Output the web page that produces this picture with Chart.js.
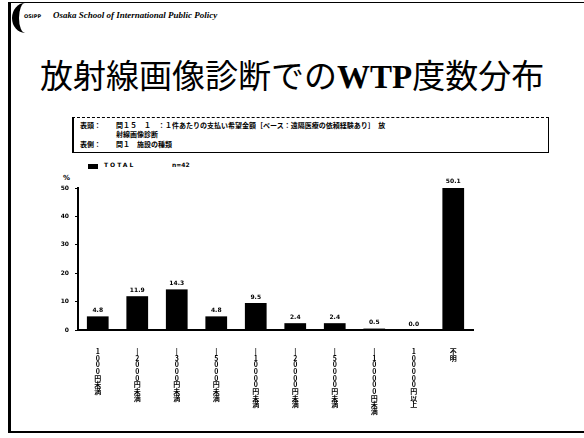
<!DOCTYPE html>
<html>
<head>
<meta charset="utf-8">
<script src="https://cdn.jsdelivr.net/npm/chart.js@4.4.1/dist/chart.umd.min.js"></script>
<style>
    html, body { margin: 0; padding: 0; background: #fff; }
    body { width: 584px; height: 438px; position: relative; overflow: hidden; font-family: "Noto Sans CJK JP", sans-serif; }
    .frame { position: absolute; left: 8px; top: 2px; width: 574px; height: 428px; border-left: 3px solid #000; border-bottom: 2px solid #000; border-top: 1px solid #000; }
    .logo { position: absolute; left: 12px; top: 3px; width: 26px; height: 30px; border-radius: 50%; border-left: 7px solid #000; box-sizing: border-box; }
    .logo-text { position: absolute; left: 24px; top: 13px; font: bold 5px "DejaVu Sans", sans-serif; }
    .school { position: absolute; left: 53px; top: 10px; font: italic bold 9px "Liberation Serif", serif; }
    .title { position: absolute; left: 40px; top: 54px; font-size: 33px; line-height: 40px; white-space: nowrap; color: #000; }
    .title b { font-family: "Liberation Serif", serif; font-weight: bold; }
    .box { position: absolute; left: 72px; top: 117px; width: 474px; height: 34px; border: 1px solid #000; border-left-width: 2px; border-top-style: dashed; font-size: 7px; font-weight: bold; line-height: 10px; }
    .box .row { position: absolute; white-space: nowrap; }
    .legend-sq { position: absolute; left: 88px; top: 164px; width: 10px; height: 5px; background: #000; }
    .legend-tx { position: absolute; left: 104px; top: 161px; font: bold 6px "DejaVu Sans", sans-serif; letter-spacing: 2px; }
    .legend-n { position: absolute; left: 172px; top: 161px; font: bold 6px "DejaVu Sans", sans-serif; color: #000; }
    .unit { position: absolute; left: 63px; top: 174px; font: bold 7px "DejaVu Sans", sans-serif; }
    canvas { position: absolute; left: 0; top: 0; }
</style>
</head>
<body>
<div class="frame"></div>
<div class="logo"></div>
<div class="logo-text">OSIPP</div>
<div class="school">Osaka School of International Public Policy</div>
<div class="title">放射線画像診断での<b>WTP</b>度数分布</div>
<div class="box">
    <div class="row" style="left:6px;top:2px">表頭：</div>
    <div class="row" style="left:42px;top:2px">問１５　１　：１件あたりの支払い希望金額［ベース：遠隔医療の依頼経験あり］　放</div>
    <div class="row" style="left:42px;top:11px">射線画像診断</div>
    <div class="row" style="left:6px;top:21px">表側：</div>
    <div class="row" style="left:42px;top:21px">問１　施設の種類</div>
</div>
<div class="legend-sq"></div>
<div class="legend-tx">TOTAL</div>
<div class="legend-n">n=42</div>
<div class="unit">%</div>
<canvas id="wtpChart" width="584" height="438"></canvas>

<script>
// WTP amount bands (written vertically under each bar)
const categories = [
    '1000円未満', '|2000円未満', '|3000円未満', '|5000円未満', '|10000円未満',
    '|20000円未満', '|50000円未満', '|100000円未満', '100000円以上', '不明'
];
// share of respondents, %
const totalValues = [4.8, 11.9, 14.3, 4.8, 9.5, 2.4, 2.4, 0.5, 0.0, 50.1];
const yTicks = [0, 10, 20, 30, 40, 50];

// value printed above each bar
const barValueLabels = {
    id: 'barValueLabels',
    afterDatasetsDraw(chart) {
        const ctx = chart.ctx;
        const meta = chart.getDatasetMeta(0);
        ctx.save();
        ctx.font = 'bold 6px "DejaVu Sans", sans-serif';
        ctx.fillStyle = '#000';
        ctx.textAlign = 'center';
        ctx.textBaseline = 'bottom';
        meta.data.forEach((bar, i) => {
            ctx.fillText(totalValues[i].toFixed(1), bar.x, bar.y - 3);
        });
        ctx.restore();
    }
};

new Chart(document.getElementById('wtpChart'), {
    type: 'bar',
    data: {
        labels: categories.map(c => c.split('')),
        datasets: [{
            label: 'TOTAL',
            data: totalValues,
            backgroundColor: '#000',
            borderWidth: 0,
            categoryPercentage: 1,
            barPercentage: 0.55
        }]
    },
    options: {
        responsive: false,
        animation: false,
        layout: { padding: { top: 188, right: 111, bottom: 6, left: 0 } },
        plugins: {
            legend: { display: false },
            tooltip: { enabled: false }
        },
        scales: {
            x: {
                afterFit: s => { s.height = 102; },
                grid: { display: false },
                border: { display: true, color: '#000', width: 2 },
                ticks: {
                    color: '#000',
                    maxRotation: 0,
                    autoSkip: false,
                    padding: 10,
                    font: { size: 7, weight: 'bold', family: '"Noto Sans CJK JP", sans-serif', lineHeight: 0.95 }
                }
            },
            y: {
                min: 0,
                max: 50,
                afterFit: s => { s.width = 78; },
                afterBuildTicks: s => { s.ticks = yTicks.map(v => ({ value: v })); },
                grid: { drawOnChartArea: false, drawTicks: true, tickLength: 3, color: '#000' },
                border: { display: true, color: '#000', width: 2 },
                ticks: {
                    color: '#000',
                    padding: 6,
                    font: { size: 6, weight: 'bold', family: '"DejaVu Sans", sans-serif' }
                }
            }
        }
    },
    plugins: [barValueLabels]
});
</script>
</body>
</html>
